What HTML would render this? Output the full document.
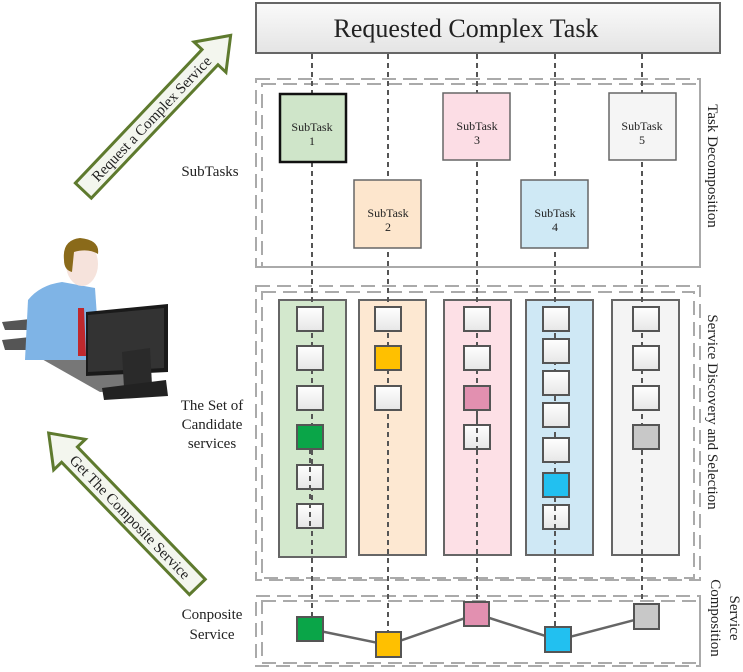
<!DOCTYPE html>
<html><head><style>body{margin:0;background:#fff}svg{display:block}text{font-family:"Liberation Serif",serif;fill:#222}</style></head>
<body>
<svg width="743" height="672" viewBox="0 0 743 672" xmlns="http://www.w3.org/2000/svg">
<defs>
<linearGradient id="wg" x1="0" y1="0" x2="0" y2="1"><stop offset="0" stop-color="#fff"/><stop offset="1" stop-color="#e6e6e6"/></linearGradient>
<linearGradient id="tg" x1="0" y1="0" x2="0" y2="1"><stop offset="0" stop-color="#fafafa"/><stop offset="1" stop-color="#e4e4e4"/></linearGradient>
</defs>
<rect x="256" y="3" width="464" height="50" fill="url(#tg)" stroke="#666" stroke-width="2"/>
<text x="466" y="37" font-size="26" text-anchor="middle">Requested Complex Task</text>
<g fill="none" stroke="#aaa" stroke-width="2" stroke-dasharray="14,7">
<rect x="256" y="79" width="444" height="188"/>
<rect x="262" y="84" width="438" height="183"/>
<rect x="256" y="286" width="444" height="294"/>
<rect x="262" y="292" width="432" height="286"/>
<rect x="256" y="596" width="444" height="70"/>
<rect x="262" y="601" width="438" height="62"/>
</g>
<g stroke="#666" stroke-width="2">
<rect x="279" y="300" width="67" height="257" fill="#d3e8cd"/>
<rect x="359" y="300" width="67" height="255" fill="#fde8d2"/>
<rect x="444" y="300" width="67" height="255" fill="#fde0e6"/>
<rect x="526" y="300" width="67" height="255" fill="#cfe8f5"/>
<rect x="612" y="300" width="67" height="255" fill="#f4f4f4"/>
</g>
<g stroke="#555" stroke-width="2" stroke-dasharray="5,4">
<line x1="312" y1="54" x2="312" y2="618"/>
<line x1="388" y1="54" x2="388" y2="634"/>
<line x1="477" y1="54" x2="477" y2="604"/>
<line x1="555" y1="54" x2="555" y2="629"/>
<line x1="642" y1="54" x2="642" y2="606"/>
</g>
<g stroke="#666" stroke-width="1.5">
<rect x="280" y="94" width="66" height="68" fill="#cfe5c9" stroke="#111" stroke-width="2.5"/>
<rect x="354" y="180" width="67" height="68" fill="#fde6cd"/>
<rect x="443" y="93" width="67" height="67" fill="#fcdde5"/>
<rect x="521" y="180" width="67" height="68" fill="#cfe9f5"/>
<rect x="609" y="93" width="67" height="67" fill="#f5f5f5"/>
</g>
<g font-size="12" text-anchor="middle">
<text x="312" y="131">SubTask</text><text x="312" y="145">1</text>
<text x="388" y="217">SubTask</text><text x="388" y="231">2</text>
<text x="477" y="130">SubTask</text><text x="477" y="144">3</text>
<text x="555" y="217">SubTask</text><text x="555" y="231">4</text>
<text x="642" y="130">SubTask</text><text x="642" y="144">5</text>
</g>
<g stroke="#555" stroke-width="2" fill="url(#wg)">
<rect x="297" y="307" width="26" height="24"/><rect x="297" y="346" width="26" height="24"/><rect x="297" y="386" width="26" height="24"/>
<rect x="297" y="425" width="26" height="24" fill="#0aa548"/><rect x="297" y="465" width="26" height="24"/><rect x="297" y="504" width="26" height="24"/>
<rect x="375" y="307" width="26" height="24"/><rect x="375" y="346" width="26" height="24" fill="#ffc000"/><rect x="375" y="386" width="26" height="24"/>
<rect x="464" y="307" width="26" height="24"/><rect x="464" y="346" width="26" height="24"/><rect x="464" y="386" width="26" height="24" fill="#e290b0"/><rect x="464" y="425" width="26" height="24"/>
<rect x="543" y="307" width="26" height="24"/><rect x="543" y="339" width="26" height="24"/><rect x="543" y="371" width="26" height="24"/><rect x="543" y="403" width="26" height="24"/><rect x="543" y="438" width="26" height="24"/><rect x="543" y="473" width="26" height="24" fill="#22c0f0"/><rect x="543" y="505" width="26" height="24"/>
<rect x="633" y="307" width="26" height="24"/><rect x="633" y="346" width="26" height="24"/><rect x="633" y="386" width="26" height="24"/><rect x="633" y="425" width="26" height="24" fill="#c8c8c8"/>
</g>
<g stroke="#555" stroke-width="2" stroke-dasharray="5,4">
<line x1="310" y1="449" x2="310" y2="528"/><line x1="388" y1="410" x2="388" y2="410"/><line x1="477" y1="410" x2="477" y2="449"/><line x1="555" y1="497" x2="555" y2="529"/>
</g>
<polyline points="310,629 388,645 477,614 558,640 646,617" fill="none" stroke="#666" stroke-width="2.5"/>
<g stroke="#555" stroke-width="2">
<rect x="297" y="617" width="26" height="24" fill="#0aa548"/>
<rect x="376" y="632" width="25" height="25" fill="#ffc000"/>
<rect x="464" y="602" width="25" height="24" fill="#e290b0"/>
<rect x="545" y="627" width="26" height="25" fill="#22c0f0"/>
<rect x="634" y="604" width="25" height="25" fill="#c8c8c8"/>
</g>
<g font-size="15" text-anchor="middle">
<text x="210" y="176">SubTasks</text>
<text x="212" y="410">The Set of</text><text x="212" y="429">Candidate</text><text x="212" y="448">services</text>
<text x="212" y="619">Conposite</text><text x="212" y="639">Service</text>
</g>
<g font-size="15" text-anchor="middle">
<text transform="translate(708,166) rotate(90)">Task Decomposition</text>
<text transform="translate(708,412) rotate(90)">Service Discovery and Selection</text>
<text transform="translate(730,618) rotate(90)">Service</text>
<text transform="translate(711,618) rotate(90)">Composition</text>
</g>
<g transform="translate(157,113) rotate(-46.5)">
<polygon points="-107,-11 77,-11 77,-22 107,0 77,22 77,11 -107,11" fill="#f3f6ee" stroke="#5e7a2e" stroke-width="3"/>
<text x="-8" y="5" font-size="15" text-anchor="middle">Request a Complex Service</text>
</g>
<g transform="translate(123,510) rotate(46)">
<polygon points="107,-11 -77,-11 -77,-22 -107,0 -77,22 -77,11 107,11" fill="#f3f6ee" stroke="#5e7a2e" stroke-width="3"/>
<text x="10" y="5" font-size="15" text-anchor="middle">Get The Composite Service</text>
</g>
<g>
<polygon points="2,322 40,318 40,330 5,330" fill="#555"/>
<polygon points="2,340 40,336 40,350 5,350" fill="#555"/>
<polygon points="40,358 100,358 150,390 100,392" fill="#777"/>
<path d="M28,300 Q40,285 62,282 L95,288 L100,360 L25,360 Z" fill="#7fb4e6"/>
<polygon points="78,308 84,308 86,356 78,356" fill="#c0282d"/>
<ellipse cx="82" cy="264" rx="16" ry="22" fill="#f6e3dc"/>
<path d="M64,260 Q62,240 80,238 Q100,240 98,254 Q88,248 74,252 L72,272 Q64,270 64,260 Z" fill="#8a6a1a"/>
<polygon points="86,312 168,304 168,372 86,376" fill="#1a1a1a"/>
<polygon points="88,315 164,308 164,368 88,372" fill="#333"/>
<polygon points="122,352 150,348 152,385 124,388" fill="#2a2a2a"/>
<polygon points="102,388 166,380 168,396 104,400" fill="#222"/>
</g>
</svg>
</body></html>
